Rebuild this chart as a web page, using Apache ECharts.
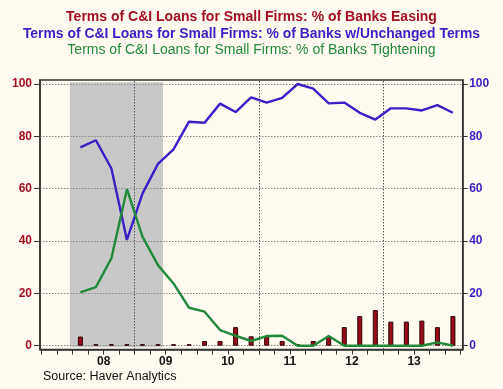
<!DOCTYPE html>
<html>
<head>
<meta charset="utf-8">
<script src="https://cdn.jsdelivr.net/npm/echarts@6/dist/echarts.min.js"></script>
<style>
html,body{margin:0;padding:0;background:#fffbf0;}
#chart{width:503px;height:389px;}
</style>
</head>
<body>
<div id="chart"></div>
<script>
// ---- data ----
const quarters = ['2008Q1','2008Q2','2008Q3','2008Q4','2009Q1','2009Q2','2009Q3','2009Q4',
  '2010Q1','2010Q2','2010Q3','2010Q4','2011Q1','2011Q2','2011Q3','2011Q4',
  '2012Q1','2012Q2','2012Q3','2012Q4','2013Q1','2013Q2','2013Q3','2013Q4','2014Q1'];
const easing = [3.5, 0, 0, 0, 0, 0, 0, 0, 1.8, 1.8, 7.1, 3.6, 3.7, 1.8, 0, 1.8, 3.7, 7.1, 11.3, 13.6, 9.2, 9.2, 9.6, 7.1, 11.3];
const unchanged = [75.8, 78.5, 67.7, 40.4, 58.1, 69.5, 75.0, 85.6, 85.2, 92.5, 89.3, 94.9, 92.9, 94.7, 100, 98.2, 92.6, 92.9, 89.0, 86.4, 90.7, 90.7, 89.9, 91.9, 89.0];
const tightening = [20.4, 22.4, 33.4, 59.8, 41.7, 30.8, 23.8, 14.5, 13.0, 6.0, 3.8, 1.8, 3.7, 3.8, 0, 0, 3.7, 0, 0, 0, 0, 0, 0, 1.3, 0];
const yearLabels = ['08','09','10','11','12','13'];
const yTicks = [0, 20, 40, 60, 80, 100];
const recession = ['2007-12-15', '2009-06-15'];
const titles = [
  'Terms of C&I Loans for Small Firms: % of Banks Easing',
  'Terms of C&I Loans for Small Firms: % of Banks w/Unchanged Terms',
  'Terms of C&I Loans for Small Firms: % of Banks Tightening'
];
const sourceText = 'Source: Haver Analytics';

// ---- helpers: time -> quarter units since 2008-01-01 ----
function qPos(qs){ const y = +qs.slice(0,4), q = +qs.slice(5); return (y-2008)*4 + (q-1) + 0.5; }
function datePos(ds){ const p = ds.split('-').map(Number); return (p[0]-2008)*4 + (p[1]-1 + (p[2]-1)/30)/3; }
const xs = quarters.map(qPos);
const pair = arr => arr.map((v,i)=>[xs[i], v]);
const yearLabelPos = yearLabels.map(y => (2000 + +y - 2008)*4 + 2);
const tickPos = []; for (let q=-2; q<=25; q++) tickPos.push(q);
const oddYearLines = [2009, 2011, 2013].map(y => ({xAxis: (y-2008)*4}));

const RED = '#a30f1f', BLUE = '#3b1fc6', GREEN = '#23893a';
const FONT = 'Liberation Sans';

const chart = echarts.init(document.getElementById('chart'));
chart.setOption({
  backgroundColor: '#fffbf0',
  animation: false,
  title: [
    {text: titles[0], left: 'center', top: 10, padding: 0, textStyle:{color: RED, fontSize: 14, fontWeight:'bold', fontFamily: FONT}},
    {text: titles[1], left: 'center', top: 27, padding: 0, textStyle:{color: BLUE, fontSize: 13.9, fontWeight:'bold', fontFamily: FONT}},
    {text: titles[2], left: 'center', top: 43, padding: 0, textStyle:{color: GREEN, fontSize: 14, fontWeight:'normal', fontFamily: FONT}},
    {text: sourceText, left: 43, top: 370, padding: 0, textStyle:{color: '#111', fontSize: 12.5, fontWeight:'normal', fontFamily: FONT}}
  ],
  grid: {left: 40, right: 40.3, top: 80, bottom: 39.5, show: true, borderColor: '#333', borderWidth: 1.5, backgroundColor: 'transparent'},
  xAxis: {
    type: 'value', min: -2.1, max: 25.13,
    axisLine: {show: true, onZero: false, lineStyle: {color: '#333', width: 1.5}},
    axisTick: {show: true, customValues: tickPos, length: 5, lineStyle: {color: '#333'}},
    axisLabel: {customValues: yearLabelPos, formatter: v => yearLabels[Math.round((v-2)/4)], color: '#111', fontWeight: 'bold', fontSize: 12, fontFamily: FONT, margin: 6},
    splitLine: {show: false}
  },
  yAxis: [
    {type: 'value', min: -1.45, max: 101.53, position: 'left',
     axisLine: {show: true, onZero: false, lineStyle: {color: '#333', width: 1.5}},
     axisTick: {show: true, customValues: yTicks, length: 6, lineStyle: {color: '#333'}},
     axisLabel: {customValues: yTicks, color: RED, fontWeight: 'bold', fontSize: 12, fontFamily: FONT, margin: 8},
     splitLine: {show: true, lineStyle: {color: '#888', type: [1.5, 1.5], width: 1}}},
    {type: 'value', min: -1.45, max: 101.53, position: 'right',
     axisLine: {show: true, onZero: false, lineStyle: {color: '#333', width: 1.5}},
     axisTick: {show: true, customValues: yTicks, length: 5, lineStyle: {color: '#333'}},
     axisLabel: {customValues: yTicks, color: BLUE, fontWeight: 'bold', fontSize: 12, fontFamily: FONT, margin: 6.5},
     splitLine: {show: false}}
  ],
  series: [
    {name: 'Recession', type: 'line', data: [], silent: true,
     markArea: {silent: true, z: -1, itemStyle: {color: '#c8c8c8'},
       data: [[{coord: [datePos(recession[0]), -0.6]}, {coord: [datePos(recession[1]), 100.65]}]]},
     markLine: {silent: true, z: 0, symbol: 'none', label: {show: false},
       lineStyle: {color: '#555', type: [1.5, 1.5], width: 1}, data: oddYearLines}},
    {name: 'Easing', type: 'bar', yAxisIndex: 0, data: pair(easing), barWidth: 5, barMinHeight: 1.5,
     itemStyle: {color: '#9a0b1a', borderColor: '#2a0306', borderWidth: 1}},
    {name: 'Unchanged', type: 'line', yAxisIndex: 1, data: pair(unchanged), showSymbol: false, symbol: 'none',
     lineStyle: {color: BLUE, width: 2.4}},
    {name: 'Tightening', type: 'line', yAxisIndex: 0, data: pair(tightening), showSymbol: false, symbol: 'none',
     lineStyle: {color: GREEN, width: 2.4}}
  ]
});
</script>
</body>
</html>
